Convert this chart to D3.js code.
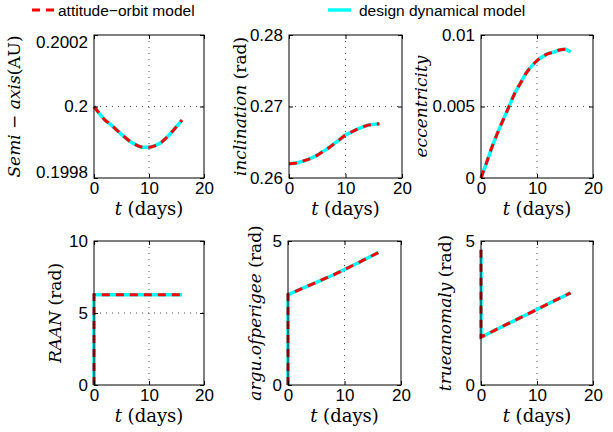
<!DOCTYPE html>
<html>
<head>
<meta charset="utf-8">
<script src="https://cdn.jsdelivr.net/npm/d3@7"></script>
<style>
  html, body { margin: 0; padding: 0; background: #fff; }
  svg { display: block; }
</style>
</head>
<body>
<svg id="chart" width="613" height="432"></svg>
<script>
// ---------------- data ----------------
const legendLabels = ["attitude\u2212orbit model", "design dynamical model"];

const tDays = [0, 1, 2, 3, 4, 5, 6, 7, 8, 9, 10, 11, 12, 13, 14, 15, 16];
const semiAxis = [0.2, 0.19998, 0.199962, 0.19995, 0.199936, 0.199922, 0.199909, 0.199898,
                  0.19989, 0.199886, 0.199886, 0.19989, 0.199897, 0.19991, 0.199926, 0.199944, 0.199962];
const inclination = [0.2620, 0.26205, 0.26225, 0.2625, 0.2628, 0.2632, 0.2637, 0.2642,
                     0.2648, 0.2654, 0.2660, 0.2664, 0.2668, 0.2671, 0.2674, 0.2675, 0.2676];
const eccentricity = [0, 0.00108, 0.0022, 0.0032, 0.0041, 0.0050, 0.0059, 0.0066,
                      0.0073, 0.0078, 0.0082, 0.0085, 0.0087, 0.0088, 0.00895, 0.0090, 0.0088];

const tJump = [0, 0, 4, 8, 12, 16];
const raan = [0, 6.26, 6.26, 6.26, 6.26, 6.26];
const argPerigee = [0, 3.14, 3.48, 3.82, 4.2, 4.6];
const trueAnomaly = [4.70, 1.66, 2.05, 2.43, 2.82, 3.2];

const xTicks = [0, 10, 20];
const semiAxisTicks = [0.1998, 0.2, 0.2002];
const inclinationTicks = [0.26, 0.27, 0.28];
const eccentricityTicks = [0, 0.005, 0.01];
const raanTicks = [0, 5, 10];
const argPerigeeTicks = [0, 5];
const trueAnomalyTicks = [0, 5];

// ---------------- layout ----------------
const panels = [
  { t: tDays, v: semiAxis, ticks: semiAxisTicks, box: [94, 35, 204, 178], labX: 20,
    inset: true,
    label: [["Semi", 1], [" \u2212 ", 0], ["axis", 1], ["(AU)", 0]] },
  { t: tDays, v: inclination, ticks: inclinationTicks, box: [289, 35, 402, 178], labX: 246,
    label: [["inclination", 1], [" (rad)", 0]] },
  { t: tDays, v: eccentricity, ticks: eccentricityTicks, box: [481, 35, 593, 178], labX: 427,
    label: [["eccentricity", 1]] },
  { t: tJump, v: raan, ticks: raanTicks, box: [94, 241, 204, 385], labX: 61,
    label: [["RAAN", 1], [" (rad)", 0]] },
  { t: tJump, v: argPerigee, ticks: argPerigeeTicks, box: [288, 241, 401, 385], labX: 261,
    label: [["argu.ofperigee", 1], [" (rad)", 0]] },
  { t: tJump, v: trueAnomaly, ticks: trueAnomalyTicks, box: [481, 241, 593, 385], labX: 451,
    label: [["trueanomaly", 1], [" (rad)", 0]] }
];

const RED = "#ff0000", CYAN = "#00ffff";
const SANS = "font-family: 'Liberation Sans', Arial, Helvetica, sans-serif";
const SERIF = "font-family: 'DejaVu Serif', 'Liberation Serif', serif";

const svg = d3.select("#chart");

// legend
const leg = svg.append("g");
leg.append("line").attr("x1", 32).attr("x2", 54).attr("y1", 10).attr("y2", 10)
  .attr("stroke", RED).attr("stroke-width", 3).attr("stroke-dasharray", "8,6");
leg.append("text").attr("style", SANS).attr("x", 58).attr("y", 16).text(legendLabels[0])
  .attr("font-size", 15.5).attr("fill", "#000");
leg.append("line").attr("x1", 328).attr("x2", 351).attr("y1", 10).attr("y2", 10)
  .attr("stroke", CYAN).attr("stroke-width", 3.5);
leg.append("text").attr("style", SANS).attr("x", 359).attr("y", 16).text(legendLabels[1])
  .attr("font-size", 15.5).attr("fill", "#000");

panels.forEach(p => {
  const [x0, y0, x1, y1] = p.box;
  const x = d3.scaleLinear().domain([xTicks[0], xTicks[xTicks.length - 1]]).range([x0, x1]);
  const y = d3.scaleLinear().domain([p.ticks[0], p.ticks[p.ticks.length - 1]]).range([y1, y0]);
  const g = svg.append("g");

  // grid (dotted) at interior ticks
  xTicks.slice(1, -1).forEach(tv => {
    g.append("line").attr("x1", x(tv)).attr("x2", x(tv)).attr("y1", y0).attr("y2", y1)
      .attr("stroke", "#555").attr("stroke-width", 1).attr("stroke-dasharray", "1,5");
  });
  p.ticks.slice(1, -1).forEach(tv => {
    g.append("line").attr("x1", x0).attr("x2", x1).attr("y1", y(tv)).attr("y2", y(tv))
      .attr("stroke", "#555").attr("stroke-width", 1).attr("stroke-dasharray", "1,5");
  });

  // data lines
  const pts = p.t.map((tv, i) => [tv, p.v[i]]);
  const gen = p.t === tDays
    ? d3.line().x(d => x(d[0])).y(d => y(d[1])).curve(d3.curveMonotoneX)
    : d3.line().x(d => x(d[0])).y(d => y(d[1]));
  g.append("path").attr("d", gen(pts)).attr("fill", "none")
    .attr("stroke", CYAN).attr("stroke-width", 3.5).attr("stroke-linejoin", "round");
  g.append("path").attr("d", gen(pts)).attr("fill", "none")
    .attr("stroke", RED).attr("stroke-width", 3).attr("stroke-dasharray", "8,6");

  // axes
  const ax = g.append("g").attr("transform", `translate(0,${y1})`)
    .call(d3.axisBottom(x).tickValues(xTicks).tickSize(-4).tickPadding(4).tickFormat(d3.format("d")));
  const at = g.append("g").attr("transform", `translate(0,${y0})`)
    .call(d3.axisTop(x).tickValues(xTicks).tickSize(-4).tickFormat(""));
  const ay = g.append("g").attr("transform", `translate(${x0},0)`)
    .call(d3.axisLeft(y).tickValues(p.ticks).tickSize(-4).tickPadding(6).tickFormat(d => String(+d.toFixed(6))));
  const ar = g.append("g").attr("transform", `translate(${x1},0)`)
    .call(d3.axisRight(y).tickValues(p.ticks).tickSize(-4).tickFormat(""));
  [ax, at, ay, ar].forEach(a => {
    a.attr("font-family", null);
    a.select(".domain").remove();
    a.selectAll("line").attr("stroke", "#000");
    a.selectAll("text").attr("style", SANS).attr("font-size", 17).attr("fill", "#000");
  });
  ax.selectAll("text").attr("y", 4).attr("dy", "0.71em");
  if (p.inset) {
    const n = p.ticks.length;
    ay.selectAll("text").attr("dy", (d, i) => i === 0 ? "-0.05em" : (i === n - 1 ? "0.72em" : "0.32em"));
  }

  // box
  g.append("rect").attr("x", x0).attr("y", y0).attr("width", x1 - x0).attr("height", y1 - y0)
    .attr("fill", "none").attr("stroke", "#000").attr("stroke-width", 1);

  // x label
  const xl = g.append("text").attr("style", SERIF).attr("x", (x0 + x1) / 2).attr("y", y1 + 37)
    .attr("text-anchor", "middle").attr("font-size", 18).attr("fill", "#000");
  xl.append("tspan").attr("font-style", "italic").text("t");
  xl.append("tspan").text(" (days)");

  // y label
  const yl = g.append("text").attr("style", SERIF)
    .attr("transform", `translate(${p.labX},${(y0 + y1) / 2}) rotate(-90)`)
    .attr("text-anchor", "middle").attr("font-size", 17).attr("fill", "#000");
  p.label.forEach(([s, it]) => {
    yl.append("tspan").attr("font-style", it ? "italic" : "normal").text(s);
  });
});
</script>
</body>
</html>
